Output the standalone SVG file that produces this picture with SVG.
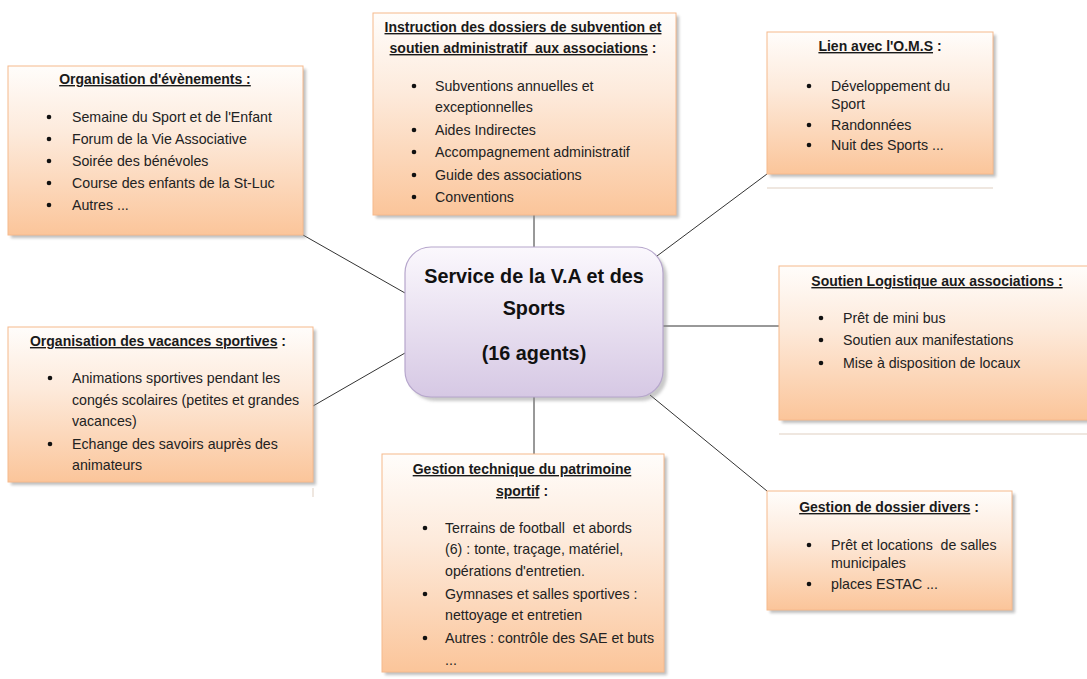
<svg xmlns="http://www.w3.org/2000/svg" width="1087" height="679" viewBox="0 0 1087 679">
<defs>
<linearGradient id="og" x1="0" y1="0" x2="0" y2="1">
<stop offset="0" stop-color="#fffdfb"/>
<stop offset="0.4" stop-color="#fdeadb"/>
<stop offset="1" stop-color="#fbc59a"/>
</linearGradient>
<linearGradient id="pg" x1="0" y1="0" x2="0" y2="1">
<stop offset="0" stop-color="#fbf8fd"/>
<stop offset="1" stop-color="#d6c8e4"/>
</linearGradient>
<filter id="sh" x="-5%" y="-5%" width="115%" height="115%">
<feGaussianBlur stdDeviation="1.5"/>
</filter>
</defs>
<style>
.box{fill:url(#og);stroke:#f6b98c;stroke-width:1}
.shd{fill:#8a8a8a;opacity:0.55;filter:url(#sh)}
.t{font-family:"Liberation Sans",Arial,sans-serif;font-size:14px;font-weight:bold;fill:#1a1a1a;white-space:pre}
.b{font-family:"Liberation Sans",Arial,sans-serif;font-size:14.2px;fill:#222;white-space:pre}
.u{text-decoration:underline}
.c{font-family:"Liberation Sans",Arial,sans-serif;font-size:19.8px;font-weight:bold;fill:#111}
.con{stroke:#333;stroke-width:1;fill:none}
.faint{stroke:#eadfd6;stroke-width:1.5}
.dot{fill:#111}
</style>
<rect width="1087" height="679" fill="#ffffff"/>

<g id="connectors">
<line class="con" x1="303" y1="235" x2="405" y2="293"/>
<line class="con" x1="534" y1="215" x2="534" y2="247"/>
<line class="con" x1="767" y1="174" x2="657" y2="256"/>
<line class="con" x1="663" y1="326" x2="779" y2="326"/>
<line class="con" x1="313" y1="406" x2="405" y2="353"/>
<line class="con" x1="534" y1="397" x2="534" y2="454"/>
<line class="con" x1="767" y1="491" x2="650" y2="395"/>
<line class="faint" x1="767" y1="188" x2="993" y2="188"/>
<line class="faint" x1="779" y1="434" x2="1087" y2="434"/>
<line class="faint" x1="313" y1="488" x2="313" y2="497"/>
</g>

<g id="center">
<rect x="409" y="251" width="258" height="150" rx="26" fill="#888" opacity="0.45" filter="url(#sh)"/>
<rect x="405" y="247" width="258" height="150" rx="26" fill="url(#pg)" stroke="#b6a6cc" stroke-width="1.2"/>
<text class="c" x="534" y="283" text-anchor="middle">Service de la V.A et des</text>
<text class="c" x="534" y="315" text-anchor="middle">Sports</text>
<text class="c" x="534" y="360" text-anchor="middle">(16 agents)</text>
</g>

<g id="evenements">
<rect class="shd" x="11" y="69" width="295" height="169"/>
<rect class="box" x="8" y="66" width="295" height="169"/>
<text class="t" x="155" y="84" text-anchor="middle"><tspan class="u">Organisation d'évènements :</tspan></text>
<circle class="dot" cx="49" cy="117" r="2.3"/>
<circle class="dot" cx="49" cy="139" r="2.3"/>
<circle class="dot" cx="49" cy="161" r="2.3"/>
<circle class="dot" cx="49" cy="183" r="2.3"/>
<circle class="dot" cx="49" cy="205" r="2.3"/>
<text class="b" x="72" y="122">Semaine du Sport et de l'Enfant</text>
<text class="b" x="72" y="144">Forum de la Vie Associative</text>
<text class="b" x="72" y="166">Soirée des bénévoles</text>
<text class="b" x="72" y="188">Course des enfants de la St-Luc</text>
<text class="b" x="72" y="210">Autres ...</text>
</g>

<g id="instruction">
<rect class="shd" x="376" y="16" width="303" height="202"/>
<rect class="box" x="373" y="13" width="303" height="202"/>
<text class="t" x="523" y="32" text-anchor="middle"><tspan class="u">Instruction des dossiers de subvention et</tspan></text>
<text class="t" x="523" y="53" text-anchor="middle" xml:space="preserve"><tspan class="u">soutien administratif  aux associations</tspan> :</text>
<circle class="dot" cx="414" cy="86" r="2.3"/>
<circle class="dot" cx="414" cy="130" r="2.3"/>
<circle class="dot" cx="414" cy="152" r="2.3"/>
<circle class="dot" cx="414" cy="175" r="2.3"/>
<circle class="dot" cx="414" cy="197" r="2.3"/>
<text class="b" x="435" y="91">Subventions annuelles et</text>
<text class="b" x="435" y="112">exceptionnelles</text>
<text class="b" x="435" y="135">Aides Indirectes</text>
<text class="b" x="435" y="157">Accompagnement administratif</text>
<text class="b" x="435" y="180">Guide des associations</text>
<text class="b" x="435" y="202">Conventions</text>
</g>

<g id="oms">
<rect class="shd" x="770" y="35" width="226" height="142"/>
<rect class="box" x="767" y="32" width="226" height="142"/>
<text class="t" x="880" y="51" text-anchor="middle"><tspan class="u">Lien avec l'O.M.S</tspan> :</text>
<circle class="dot" cx="809" cy="86" r="2.3"/>
<circle class="dot" cx="809" cy="125" r="2.3"/>
<circle class="dot" cx="809" cy="145" r="2.3"/>
<text class="b" x="831" y="91">Développement du</text>
<text class="b" x="831" y="109">Sport</text>
<text class="b" x="831" y="130">Randonnées</text>
<text class="b" x="831" y="150">Nuit des Sports ...</text>
</g>

<g id="logistique">
<rect class="shd" x="782" y="269" width="310" height="154"/>
<rect class="box" x="779" y="266" width="312" height="154"/>
<text class="t" x="937" y="286" text-anchor="middle"><tspan class="u">Soutien Logistique aux associations :</tspan></text>
<circle class="dot" cx="821" cy="318" r="2.3"/>
<circle class="dot" cx="821" cy="340" r="2.3"/>
<circle class="dot" cx="821" cy="363" r="2.3"/>
<text class="b" x="843" y="323">Prêt de mini bus</text>
<text class="b" x="843" y="345">Soutien aux manifestations</text>
<text class="b" x="843" y="368">Mise à disposition de locaux</text>
</g>

<g id="vacances">
<rect class="shd" x="11" y="330" width="305" height="155"/>
<rect class="box" x="8" y="327" width="305" height="155"/>
<text class="t" x="158" y="346" text-anchor="middle"><tspan class="u">Organisation des vacances sportives</tspan> :</text>
<circle class="dot" cx="50" cy="378" r="2.3"/>
<circle class="dot" cx="50" cy="444" r="2.3"/>
<text class="b" x="72" y="383">Animations sportives pendant les</text>
<text class="b" x="72" y="405">congés scolaires (petites et grandes</text>
<text class="b" x="72" y="426">vacances)</text>
<text class="b" x="72" y="449">Echange des savoirs auprès des</text>
<text class="b" x="72" y="470">animateurs</text>
</g>

<g id="patrimoine">
<rect class="shd" x="385" y="457" width="282" height="218"/>
<rect class="box" x="382" y="454" width="282" height="218"/>
<text class="t" x="522" y="474" text-anchor="middle"><tspan class="u">Gestion technique du patrimoine</tspan></text>
<text class="t" x="522" y="496" text-anchor="middle"><tspan class="u">sportif</tspan> :</text>
<circle class="dot" cx="425" cy="528" r="2.3"/>
<circle class="dot" cx="425" cy="594" r="2.3"/>
<circle class="dot" cx="425" cy="638" r="2.3"/>
<text class="b" x="445" y="533" xml:space="preserve">Terrains de football  et abords</text>
<text class="b" x="445" y="554">(6) : tonte, traçage, matériel,</text>
<text class="b" x="445" y="576">opérations d'entretien.</text>
<text class="b" x="445" y="599">Gymnases et salles sportives :</text>
<text class="b" x="445" y="620">nettoyage et entretien</text>
<text class="b" x="445" y="643">Autres : contrôle des SAE et buts</text>
<text class="b" x="445" y="665">...</text>
</g>

<g id="divers">
<rect class="shd" x="770" y="494" width="245" height="119"/>
<rect class="box" x="767" y="491" width="245" height="119"/>
<text class="t" x="889" y="512" text-anchor="middle"><tspan class="u">Gestion de dossier divers</tspan> :</text>
<circle class="dot" cx="809" cy="545" r="2.3"/>
<circle class="dot" cx="809" cy="584" r="2.3"/>
<text class="b" x="831" y="550" xml:space="preserve">Prêt et locations  de salles</text>
<text class="b" x="831" y="568">municipales</text>
<text class="b" x="831" y="589">places ESTAC ...</text>
</g>
</svg>
